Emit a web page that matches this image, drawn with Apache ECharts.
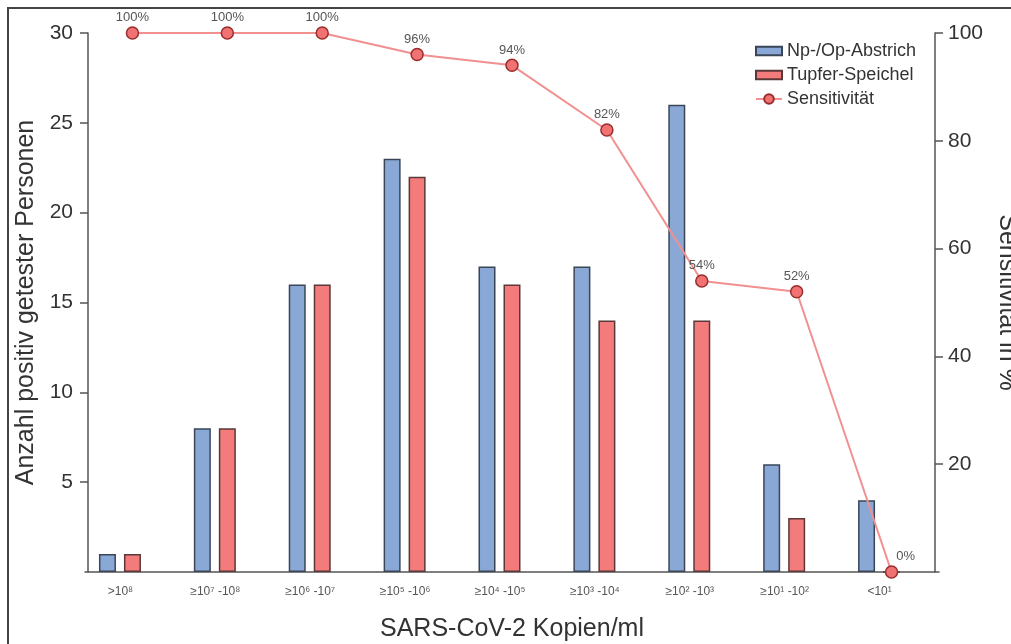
<!DOCTYPE html>
<html>
<head>
<meta charset="utf-8">
<script src="https://cdn.jsdelivr.net/npm/echarts@6/dist/echarts.min.js"></script>
<style>html,body{margin:0;padding:0;background:#fff;}#c{width:1011px;height:644px;}</style>
</head>
<body>
<div id="c"></div>
<script>
const categories = ['>10⁸', '≥10⁷ -10⁸', '≥10⁶ -10⁷', '≥10⁵ -10⁶', '≥10⁴ -10⁵', '≥10³ -10⁴', '≥10² -10³', '≥10¹ -10²', '<10¹'];
const npOpAbstrich = [1, 8, 16, 23, 17, 17, 26, 6, 4];
const tupferSpeichel = [1, 8, 16, 22, 16, 14, 14, 3, 0];
const sensitivitaet = [100, 100, 100, 96, 94, 82, 54, 52, 0];
const leftTicks = [0, 5, 10, 15, 20, 25, 30];
const rightTicks = [0, 20, 40, 60, 80, 100];

const FONT = 'Liberation Sans, Arial, Helvetica, sans-serif';
const chart = echarts.init(document.getElementById('c'), null, {renderer: 'canvas'});
const barIcon = 'path://M0,0 H25 V8 H0 Z';
const sensData = sensitivitaet.map((v, i) =>
  i === sensitivitaet.length - 1 ? {value: v, label: {offset: [14, 0]}} : v);
chart.setOption({
  animation: false,
  backgroundColor: '#fff',
  textStyle: {fontFamily: FONT},
  grid: {left: 85, right: 72, top: 33, bottom: 72, outerBoundsMode: 'none', containLabel: false},
  legend: {
    orient: 'vertical', left: 750, top: 37, itemGap: 6,
    itemWidth: 26, itemHeight: 12,
    textStyle: {fontSize: 18, color: '#333', fontFamily: FONT},
    data: [
      {name: 'Np-/Op-Abstrich', icon: barIcon},
      {name: 'Tupfer-Speichel', icon: barIcon},
      {name: 'Sensitivität'}
    ]
  },
  xAxis: {
    type: 'category', data: categories,
    axisLine: {lineStyle: {color: '#555', width: 1.5}},
    axisTick: {show: false},
    axisLabel: {fontSize: 12, color: '#555', margin: 14, interval: 0, padding: [0, 24, 0, 0]},
    name: 'SARS-CoV-2 Kopien/ml', nameLocation: 'middle', nameGap: 45,
    nameTextStyle: {fontSize: 25, color: '#333'}
  },
  yAxis: [{
    type: 'value', min: leftTicks[0], max: leftTicks[leftTicks.length - 1], interval: 5,
    offset: -3,
    splitLine: {show: false},
    axisLine: {show: true, lineStyle: {color: '#555', width: 1.5}},
    axisTick: {show: true, length: 8, lineStyle: {color: '#555', width: 1.5}},
    axisLabel: {fontSize: 21, color: '#333', margin: 15, showMinLabel: false},
    name: 'Anzahl positiv getester Personen', nameLocation: 'middle', nameGap: 46,
    nameTextStyle: {fontSize: 25, color: '#333'}
  }, {
    type: 'value', min: rightTicks[0], max: rightTicks[rightTicks.length - 1], interval: 20,
    position: 'right', offset: -4,
    splitLine: {show: false},
    axisLine: {show: true, lineStyle: {color: '#555', width: 1.5}},
    axisTick: {show: true, length: 8, lineStyle: {color: '#555', width: 1.5}},
    axisLabel: {fontSize: 21, color: '#333', margin: 13, showMinLabel: false},
    name: 'Sensitivität in %', nameLocation: 'middle', nameGap: 57, nameRotate: -90,
    nameTextStyle: {fontSize: 25, color: '#333'}
  }],
  series: [{
    name: 'Np-/Op-Abstrich', type: 'bar', data: npOpAbstrich,
    barWidth: 17, barGap: '47%',
    itemStyle: {color: '#8aa8d6', borderColor: '#3a4658', borderWidth: 1.5}
  }, {
    name: 'Tupfer-Speichel', type: 'bar', data: tupferSpeichel,
    barWidth: 17, barGap: '47%',
    itemStyle: {color: '#f47b7b', borderColor: '#5a3838', borderWidth: 1.5}
  }, {
    name: 'spacer', type: 'bar', data: [], barWidth: 17, barGap: '47%',
    itemStyle: {opacity: 0}
  }, {
    name: 'Sensitivität', type: 'line', yAxisIndex: 1, data: sensData,
    z: 5,
    symbol: 'circle', symbolSize: 12,
    lineStyle: {color: '#f29090', width: 2},
    itemStyle: {color: '#f07272', borderColor: '#9a2e2e', borderWidth: 1.5},
    label: {show: true, position: 'top', distance: 2, fontSize: 13, color: '#555',
      formatter: p => p.value + '%'}
  }],
  graphic: [{
    type: 'rect', silent: true, z: 100,
    shape: {x: 8, y: 8, width: 1100, height: 640},
    style: {fill: 'none', stroke: '#444', lineWidth: 2}
  }]
});
</script>
</body>
</html>
